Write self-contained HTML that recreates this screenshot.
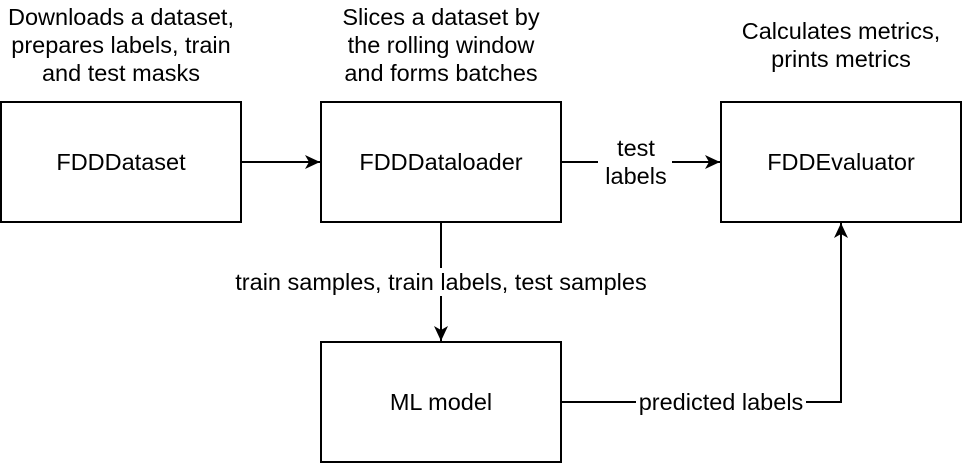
<!DOCTYPE html>
<html><head><style>body{margin:0;background:#fff}</style></head><body>
<svg width="964" height="464" xmlns="http://www.w3.org/2000/svg" font-family="Liberation Sans, Arial, sans-serif" font-size="23.5" fill="#000">
<defs><marker id="a" markerWidth="16" markerHeight="14" refX="15" refY="7" orient="auto" markerUnits="userSpaceOnUse"><path d="M0,0 L15,7 L0,14 L4,7 Z" fill="#000"/></marker></defs>
<g fill="#fff" stroke="#000" stroke-width="2">
<rect x="1" y="102" width="240" height="120"/>
<rect x="321" y="102" width="240" height="120"/>
<rect x="721" y="102" width="240" height="120"/>
<rect x="321" y="342" width="240" height="120"/>
</g>
<g stroke="#000" stroke-width="2" fill="none">
<path d="M241 162 H320" marker-end="url(#a)"/>
<path d="M561 162 H720" marker-end="url(#a)"/>
<path d="M441 222 V341" marker-end="url(#a)"/>
<path d="M561 402 H841 V223" marker-end="url(#a)"/>
</g>
<g fill="#fff">
<rect x="598" y="136" width="74" height="54"/>
<rect x="228" y="268" width="426" height="28"/>
<rect x="636" y="390" width="170" height="26"/>
</g>
<g text-anchor="middle">
<text x="121" y="170">FDDDataset</text>
<text x="441" y="170">FDDDataloader</text>
<text x="841" y="170">FDDEvaluator</text>
<text x="441" y="410">ML model</text>
<text x="636" y="156">test</text>
<text x="636" y="184">labels</text>
<text x="441" y="290">train samples, train labels, test samples</text>
<text x="721" y="410">predicted labels</text>
<text x="121" y="25">Downloads a dataset,</text>
<text x="121" y="53">prepares labels, train</text>
<text x="121" y="81">and test masks</text>
<text x="441" y="25">Slices a dataset by</text>
<text x="441" y="53">the rolling window</text>
<text x="441" y="81">and forms batches</text>
<text x="841" y="39">Calculates metrics,</text>
<text x="841" y="67">prints metrics</text>
</g>
</svg>
</body></html>
